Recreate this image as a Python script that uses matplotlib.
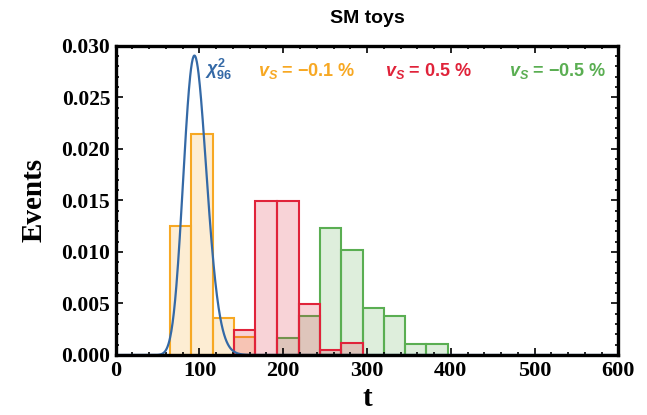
import math
import numpy as np
import matplotlib
matplotlib.use("Agg")
import matplotlib.pyplot as plt
from matplotlib.ticker import MultipleLocator, FormatStrFormatter

# bin edges of the toy histograms (t)
edges = [64.8, 90.0, 115.7, 141.5, 166.8, 192.3, 218.3, 243.4, 269.0, 294.8, 320.2, 345.5, 370.7, 396.3]

# normalized heights per bin (0 = empty)
orange_h = [0.0125, 0.0214, 0.0036, 0.0017, 0, 0, 0, 0, 0, 0, 0, 0, 0]
red_h = [0, 0, 0, 0.0024, 0.0149, 0.0149, 0.0049, 0.0005, 0.0012, 0, 0, 0, 0]
green_h = [0, 0, 0, 0, 0, 0.0016, 0.0038, 0.0123, 0.0102, 0.0046, 0.0038, 0.0011, 0.0011]

dof = 96  # chi^2 degrees of freedom

c_blue = "#3469a6"
c_orange = "#f7a823"
c_red = "#e0233a"
c_green = "#5aae52"

plt.rcParams["mathtext.fontset"] = "custom"
plt.rcParams["mathtext.it"] = "Liberation Sans:italic:bold"
plt.rcParams["mathtext.rm"] = "Liberation Sans:bold"
plt.rcParams["mathtext.bf"] = "Liberation Sans:bold"

fig = plt.figure(figsize=(6.47, 4.15), dpi=100)
ax = fig.add_axes([0.1788, 0.1446, 0.7769, 0.7453])

left = np.array(edges[:-1])
width = np.diff(edges)

def hist(h, col):
    h = np.array(h)
    m = h > 0
    ax.bar(left[m], h[m], width=width[m], align="edge", color=col, alpha=0.2, lw=0)
    ax.bar(left[m], h[m], width=width[m], align="edge", fill=False, edgecolor=col, lw=1.5)

hist(orange_h, c_orange)
hist(green_h, c_green)
hist(red_h, c_red)

# chi^2 pdf with dof degrees of freedom
t = np.linspace(1, 600, 1200)
k = dof / 2.0
logpdf = (k - 1) * np.log(t) - t / 2.0 - k * math.log(2) - math.lgamma(k)
ax.plot(t, np.exp(logpdf), color=c_blue, lw=1.6)

ax.set_xlim(0, 600)
ax.set_ylim(0, 0.030)

serif = "Liberation Serif"
ax.xaxis.set_major_locator(MultipleLocator(100))
ax.xaxis.set_minor_locator(MultipleLocator(20))
ax.yaxis.set_major_locator(MultipleLocator(0.005))
ax.yaxis.set_minor_locator(MultipleLocator(0.001))
ax.yaxis.set_major_formatter(FormatStrFormatter("%.3f"))
ax.tick_params(which="both", direction="in", top=True, right=True, width=1.2)
ax.tick_params(which="major", length=5, labelsize=16, pad=4)
ax.tick_params(axis="y", which="major", pad=4, labelsize=15.5)
ax.tick_params(which="minor", length=2.5)
for lab in ax.get_xticklabels() + ax.get_yticklabels():
    lab.set_fontfamily(serif)
    lab.set_fontweight("bold")
for s in ax.spines.values():
    s.set_linewidth(2.4)

ax.set_xlabel("t", fontfamily=serif, fontweight="bold", fontsize=21, labelpad=3)
ax.set_ylabel("Events", fontfamily=serif, fontweight="bold", fontsize=21, labelpad=10)
ax.set_title("SM toys", fontfamily="Liberation Sans", fontweight="bold", fontsize=14, pad=16)

lab_kw = dict(fontfamily="Liberation Sans", fontweight="bold", fontsize=13, va="center")
ax.text(107, 0.0277, r"$\chi^2_{96}$", color=c_blue, **lab_kw)
ax.text(170, 0.0275, r"$v_S$ = −0.1 %", color=c_orange, **lab_kw)
ax.text(321, 0.0275, r"$v_S$ = 0.5 %", color=c_red, **lab_kw)
ax.text(470, 0.0275, r"$v_S$ = −0.5 %", color=c_green, **lab_kw)

fig.savefig("out.png", dpi=100)
